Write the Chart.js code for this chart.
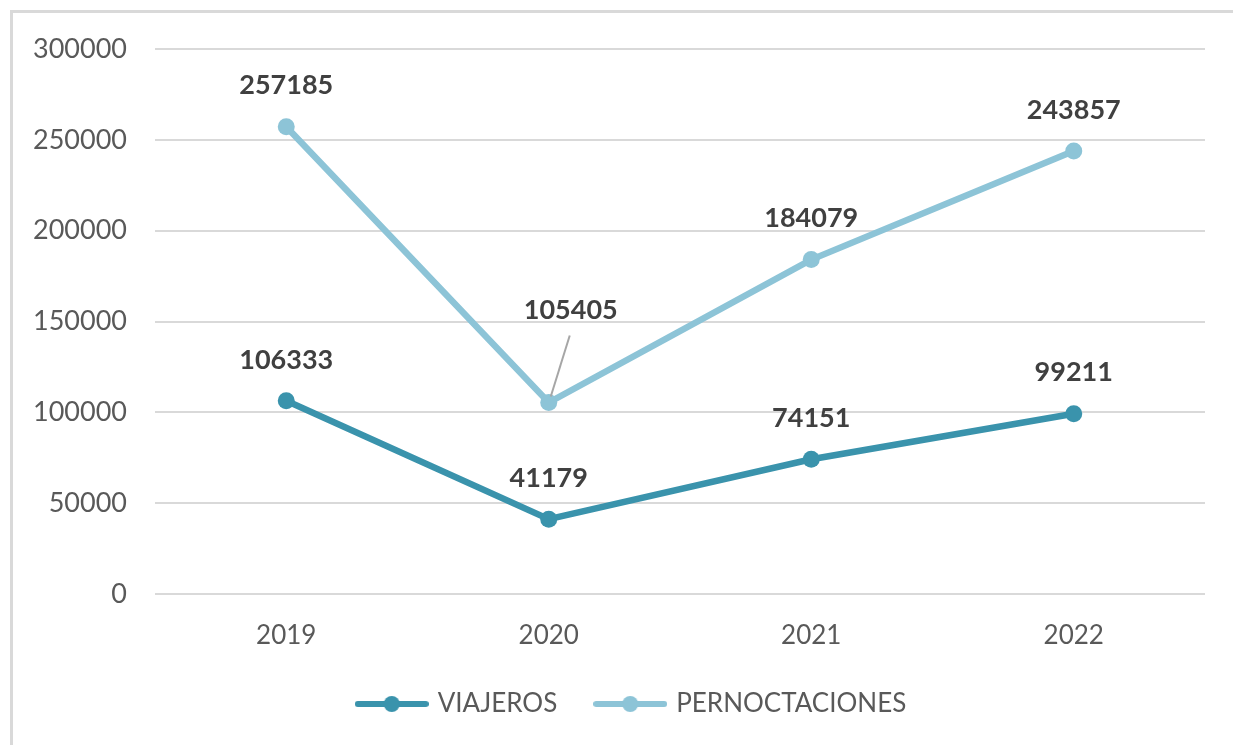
<!DOCTYPE html>
<html lang="es">
<head>
    <meta charset="UTF-8">
    <title>Viajeros y pernoctaciones</title>
    <script src="https://cdn.jsdelivr.net/npm/chart.js@4/dist/chart.umd.min.js"></script>
    <style>
        html, body { margin: 0; padding: 0; background: #fff; overflow: hidden; }
        #wrap { width: 1233px; height: 745px; position: relative; }
    </style>
</head>
<body>
<div id="wrap"><canvas id="turismoChart" width="1233" height="745"></canvas></div>
<script>
  // chart data
  const years = ['2019', '2020', '2021', '2022'];
  const viajeros = [106333, 41179, 74151, 99211];
  const pernoctaciones = [257185, 105405, 184079, 243857];
  const yTicks = [0, 50000, 100000, 150000, 200000, 250000, 300000];

  const darkTeal = '#3a93ac';
  const lightBlue = '#8dc4d7';
  const textGrey = '#595959';
  const font = 'Lato, "Open Sans", sans-serif';

  // legend marker: line with a dot, like the Excel one
  function legendMarker(color) {
    const c = document.createElement('canvas');
    c.width = 74;
    c.height = 20;
    const g = c.getContext('2d');
    g.strokeStyle = color;
    g.lineWidth = 6;
    g.lineCap = 'round';
    g.beginPath();
    g.moveTo(3, 10);
    g.lineTo(71, 10);
    g.stroke();
    g.fillStyle = color;
    g.beginPath();
    g.arc(37, 10, 8, 0, Math.PI * 2);
    g.fill();
    return c;
  }

  // light grey frame round the whole chart
  const framePlugin = {
    id: 'frame',
    beforeDraw(chart) {
      // y tick labels sit left of the (narrow) axis box, so don't clip them
      chart.scales.y._computeLabelArea = () => undefined;
      const ctx = chart.ctx;
      ctx.save();
      ctx.fillStyle = '#fff';
      ctx.fillRect(0, 0, chart.width, chart.height);
      ctx.strokeStyle = '#d9d9d9';
      ctx.lineWidth = 3;
      ctx.strokeRect(11.5, 11.5, 1260, 780);
      ctx.restore();
    }
  };

  // value labels over the points (105405 is moved off and gets a leader line)
  const valueLabels = {
    id: 'valueLabels',
    afterDatasetsDraw(chart) {
      const ctx = chart.ctx;
      ctx.save();
      ctx.font = 'bold 27px ' + font;
      ctx.fillStyle = '#404040';
      ctx.textAlign = 'center';
      ctx.textBaseline = 'middle';
      chart.data.datasets.forEach((ds, i) => {
        chart.getDatasetMeta(i).data.forEach((pt, j) => {
          let x = pt.x, y = pt.y - 41;
          if (i === 1 && j === 1) {
            x = pt.x + 22;
            y = pt.y - 92;
            ctx.strokeStyle = '#a6a6a6';
            ctx.lineWidth = 2;
            ctx.beginPath();
            ctx.moveTo(x - 1, y + 25);
            ctx.lineTo(pt.x + 2, pt.y - 6);
            ctx.stroke();
          }
          ctx.fillText(String(ds.data[j]), x, y);
        });
      });
      ctx.restore();
    }
  };

  const ctx = document.getElementById('turismoChart').getContext('2d');

  new Chart(ctx, {
    type: 'line',
    data: {
      labels: years,
      datasets: [
        {
          label: 'VIAJEROS',
          data: viajeros,
          borderColor: darkTeal,
          backgroundColor: darkTeal,
          borderWidth: 6.5,
          pointRadius: 8.5,
          pointBorderWidth: 0,
          pointHoverRadius: 8.5,
          tension: 0
        },
        {
          label: 'PERNOCTACIONES',
          data: pernoctaciones,
          borderColor: lightBlue,
          backgroundColor: lightBlue,
          borderWidth: 6.5,
          pointRadius: 8.5,
          pointBorderWidth: 0,
          pointHoverRadius: 8.5,
          tension: 0
        }
      ]
    },
    options: {
      responsive: false,
      animation: false,
      events: [],
      layout: { padding: { left: 60, right: 28, top: 49, bottom: 18 } },
      scales: {
        x: {
          offset: true,
          grid: { display: false, drawTicks: false },
          border: { display: false },
          ticks: { color: textGrey, font: { family: font, size: 26 }, padding: 26 },
          afterFit(scale) { scale.height = 57; }
        },
        y: {
          min: 0,
          max: 300000,
          afterBuildTicks(scale) { scale.ticks = yTicks.map(v => ({ value: v })); },
          grid: { color: '#d9d9d9', lineWidth: 2, drawTicks: false },
          border: { display: false },
          ticks: {
            color: textGrey,
            font: { family: font, size: 27 },
            padding: 28,
            callback: v => String(v)
          },
          afterFit(scale) { scale.width = 95; }
        }
      },
      plugins: {
        legend: {
          position: 'bottom',
          labels: {
            color: textGrey,
            font: { family: font, size: 26 },
            usePointStyle: true,
            pointStyleWidth: 66,
            padding: 40,
            generateLabels(chart) {
              return chart.data.datasets.map((ds, i) => ({
                text: ds.label,
                fontColor: textGrey,
                pointStyle: legendMarker(ds.borderColor),
                strokeStyle: ds.borderColor,
                fillStyle: ds.borderColor,
                lineWidth: 0,
                datasetIndex: i
              }));
            }
          }
        },
        tooltip: { enabled: false }
      }
    },
    plugins: [framePlugin, valueLabels]
  });
</script>
</body>
</html>
